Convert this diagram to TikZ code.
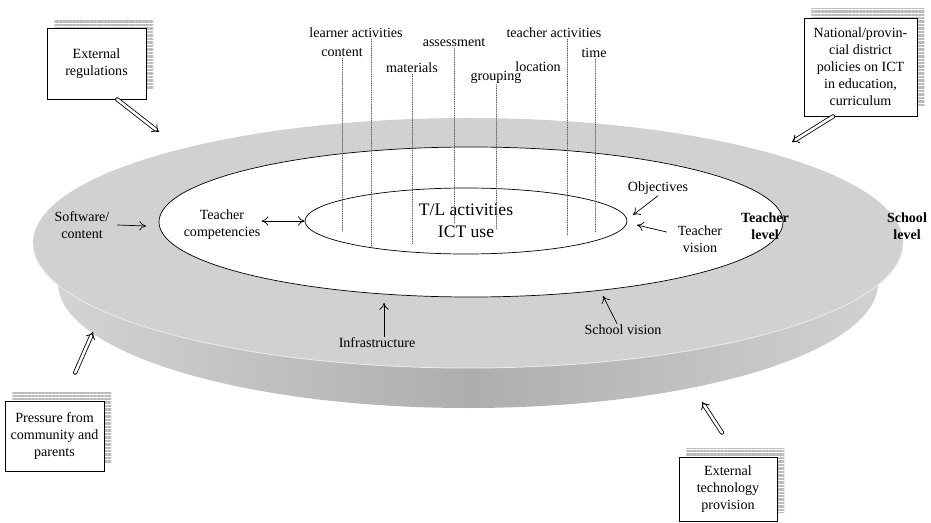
\documentclass[tikz,border=0pt]{standalone}
\usepackage{fontspec}
\setmainfont{Liberation Serif}
\usetikzlibrary{arrows.meta,shapes.geometric,shadows,patterns.meta}

\begin{document}
\begin{tikzpicture}[x=0.3mm,y=-0.3mm,line cap=round,every node/.style={font=\fontsize{12}{14.5}\selectfont,align=center,inner sep=1pt}]
\tikzset{box/.style={draw,fill=white,line width=.6pt,inner sep=2pt,general shadow={shadow xshift=2.2mm,shadow yshift=2.7mm,pattern={Lines[distance=1.2pt,line width=.3pt]},pattern color=black!28}},
  dar/.style={double,double distance=2.2pt,line width=.7pt,-{Implies}},
  ar/.style={line width=.6pt,>={To[length=2mm,width=2.8mm]}},
  vl/.style={densely dotted,line width=.5pt,black!65},
  lev/.style={font=\fontsize{12}{14.5}\selectfont\bfseries}}
\useasboundingbox (0,0) rectangle (931,523);
% the dish: rim, top face, teacher ring
\shade[left color=black!16,right color=black!17,middle color=black!32] (33,243) -- (58,283) arc[start angle=180,end angle=0,x radius=410,y radius=125] -- (903,243) -- cycle;
\fill[black!18] (468,243) ellipse[x radius=435,y radius=125];
\draw[black!9,line width=.8pt] (33,243) arc[start angle=180,end angle=0,x radius=435,y radius=125];
\draw[fill=white,line width=.6pt] (471,222) ellipse[x radius=312,y radius=75];
\node[draw,ellipse,line width=.6pt,minimum width=96.6mm,minimum height=19.8mm,inner sep=0,font=\fontsize{15}{19}\selectfont] (tlact) at (466,221) {T/L activities\\ICT use};
% components of the activities
\foreach \n/\t/\lx/\ly/\x/\yb in {lact/learner activities/356/33/371/248, cont/content/342/53/342/232, mat/materials/412/68/412/244, ass/assessment/454/43/454/223, grp/grouping/496/77/496/230, tact/teacher activities/554/33/567/235, tim/time/594/53/595/232}{
  \node (\n) at (\lx,\ly) {\t};
  \coordinate (\n-b) at (\x,\yb);
  \draw[vl] (\n-b |- \n.south) -- (\n-b);}
\node (loc) at (538,67) {location};
% factors
\node (sw) at (82,225) {Software/\\content};
\node (tcomp) at (222,225) {Teacher\\competencies};
\node (obj) at (658,188) {Objectives};
\node (tvis) at (700,239) {Teacher\\vision};
\node[lev] (tlev) at (765,226) {Teacher\\level};
\node[lev] (slev) at (907,226) {School\\level};
\node (infra) at (377,343) {Infrastructure};
\node (svis) at (623,330) {School vision};
\coordinate (swt) at (146,226); \draw[ar,->] ([xshift=2mm]sw.east) -- (swt);
\draw[ar,<->] (tcomp.east |- tlact.west) -- (tlact.west);
\coordinate (objt) at (633,215); \draw[ar,->] (obj.south) -- (objt);
\coordinate (tvist) at (637,225); \draw[ar,->] ([xshift=-3mm,yshift=2.1mm]tvis.west) -- (tvist);
\coordinate (inft) at (384,303); \draw[ar,->] (infra.north -| inft) -- (inft);
\coordinate (svt) at (603,296); \draw[ar,->] ([xshift=-1.8mm]svis.north) -- (svt);
% outside influences
\node[box,minimum width=29.7mm,minimum height=21.3mm] (extreg) at (96.5,63.5) {External\\regulations};
\node[box,minimum width=33.9mm,minimum height=29.4mm] (natpol) at (860.5,67) {National/provin-\\cial district\\policies on ICT\\in education,\\curriculum};
\node[box,minimum width=29.7mm,minimum height=21mm] (press) at (54.5,436) {Pressure from\\community and\\parents};
\node[box,minimum width=29.4mm,minimum height=19.2mm] (exttech) at (728,489) {External\\technology\\provision};
\coordinate (ert) at (159,132); \draw[dar] ([xshift=6.2mm]extreg.south) -- (ert);
\coordinate (npt) at (792,142); \draw[dar] ([xshift=-8.2mm]natpol.south) -- (npt);
\coordinate (prt) at (93,332); \draw[dar] ([xshift=6.2mm,yshift=8.4mm]press.north) -- (prt);
\coordinate (ett) at (702,402); \draw[dar] ([xshift=-1.8mm,yshift=7.2mm]exttech.north) -- (ett);
\end{tikzpicture}
\end{document}
